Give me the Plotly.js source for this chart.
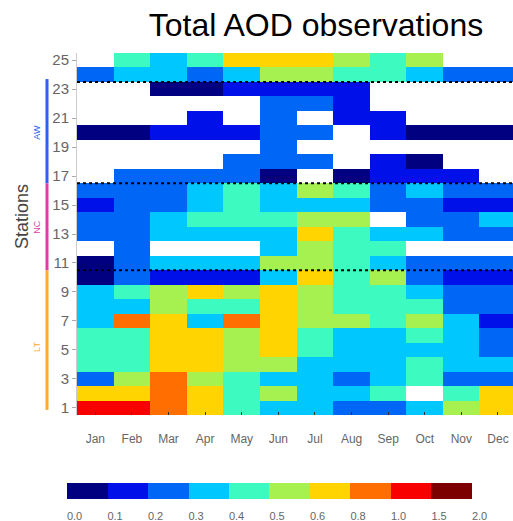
<!DOCTYPE html>
<html>
<head>
<meta charset="utf-8">
<script src="https://cdn.plot.ly/plotly-3.0.1.min.js"></script>
<style>html,body{margin:0;padding:0;background:#fff;}#chart{width:513px;height:521px;}</style>
</head>
<body>
<div id="chart"></div>
<script>
// ---- data ----
const months = ['Jan','Feb','Mar','Apr','May','Jun','Jul','Aug','Sep','Oct','Nov','Dec'];
const stations = [1,2,3,4,5,6,7,8,9,10,11,12,13,14,15,16,17,18,19,20,21,22,23,24,25];
const yTicks = [1,3,5,7,9,11,13,15,17,19,21,23,25];
// bin edges of the AOD colour scale and their labels
const binEdges = [0.0,0.1,0.2,0.3,0.4,0.5,0.6,0.8,1.0,1.5,2.0];
const binLabels = ['0.0','0.1','0.2','0.3','0.4','0.5','0.6','0.8','1.0','1.5','2.0'];
const binColors = ['#000080','#0010e8','#0066f5','#00c8ff','#3cfac0','#a6f050','#ffd400','#ff6e00','#f80000','#7c0000'];
// Total AOD per station (row) and month (Jan..Dec); null = no observation
const aodByStation = [
 /* 1 */ [1.2,1.2,0.9,0.7,0.45,0.35,0.35,0.25,0.25,0.35,0.55,0.7],
 /* 2 */ [0.7,0.7,0.9,0.7,0.45,0.55,0.35,0.35,0.45,null,0.45,0.7],
 /* 3 */ [0.25,0.55,0.9,0.55,0.45,0.35,0.35,0.25,0.35,0.45,0.25,0.25],
 /* 4 */ [0.45,0.45,0.7,0.7,0.55,0.55,0.35,0.35,0.35,0.45,0.35,0.35],
 /* 5 */ [0.45,0.45,0.7,0.7,0.55,0.7,0.45,0.35,0.35,0.35,0.35,0.25],
 /* 6 */ [0.45,0.45,0.7,0.7,0.55,0.7,0.45,0.35,0.35,0.45,0.35,0.25],
 /* 7 */ [0.35,0.9,0.7,0.35,0.9,0.7,0.55,0.55,0.45,0.55,0.35,0.15],
 /* 8 */ [0.35,0.35,0.55,0.45,0.45,0.7,0.55,0.45,0.45,0.45,0.25,0.25],
 /* 9 */ [0.35,0.45,0.55,0.7,0.55,0.7,0.55,0.45,0.45,0.35,0.25,0.25],
 /*10 */ [0.05,0.25,0.15,0.15,0.15,0.35,0.7,0.45,0.55,0.25,0.15,0.15],
 /*11 */ [0.05,0.25,0.35,0.35,0.35,0.55,0.55,0.45,0.35,0.25,0.25,0.25],
 /*12 */ [null,0.25,null,null,null,0.35,0.55,0.45,0.45,null,null,null],
 /*13 */ [0.25,0.25,0.35,0.35,0.35,0.35,0.7,0.45,0.35,0.35,0.25,0.25],
 /*14 */ [0.25,0.25,0.35,0.45,0.45,0.45,0.55,0.55,null,0.25,0.25,0.35],
 /*15 */ [0.15,0.25,0.25,0.35,0.45,0.35,0.35,0.35,0.25,0.25,0.15,0.15],
 /*16 */ [0.25,0.25,0.25,0.35,0.45,0.35,0.55,0.45,0.25,0.35,0.25,0.25],
 /*17 */ [null,0.25,0.25,0.25,0.25,0.05,null,0.05,0.15,0.15,0.15,null],
 /*18 */ [null,null,null,null,0.25,0.25,0.25,null,0.15,0.05,null,null],
 /*19 */ [null,null,null,null,null,0.25,null,null,null,null,null,null],
 /*20 */ [0.05,0.05,0.15,0.15,0.15,0.25,0.25,null,0.15,0.05,0.05,0.05],
 /*21 */ [null,null,null,0.15,null,0.25,null,0.15,0.15,null,null,null],
 /*22 */ [null,null,null,null,null,0.25,0.25,0.15,null,null,null,null],
 /*23 */ [null,null,0.05,0.05,0.15,0.15,0.15,0.15,null,null,null,null],
 /*24 */ [0.25,0.35,0.35,0.25,0.35,0.55,0.55,0.45,0.45,0.35,0.25,0.25],
 /*25 */ [null,0.45,0.35,0.45,0.7,0.7,0.7,0.55,0.45,0.55,null,null]
];
const separators = [23.5,16.5,10.5];
const groups = [
  {name:'AW', color:'#2f5ff2', from:16.5, to:23.7, labelAt:20.0},
  {name:'NC', color:'#dd3da8', from:10.5, to:16.5, labelAt:13.5},
  {name:'LT', color:'#ffab2a', from:0.85, to:10.5, labelAt:5.2}
];
const chartTitle = 'Total AOD observations';
const yTitle = 'Stations';

// ---- build ----
function binIndex(v){
  if(v===null||v===undefined) return null;
  for(let i=0;i<binEdges.length-1;i++){ if(v>=binEdges[i] && v<binEdges[i+1]) return i+0.5; }
  return binEdges.length-1.5;
}
const z = aodByStation.map(r=>r.map(binIndex));
const nb = binColors.length;
const colorscale = [];
binColors.forEach((c,i)=>{ colorscale.push([i/nb,c]); colorscale.push([(i+1)/nb,c]); });

const W=513,H=521, L=77, R=0, T=53, B=106;
const plotW = W-L-R, plotH = H-T-B;
const font = 'Liberation Sans, Arial, sans-serif';
const narrow = 'Liberation Sans Narrow, Liberation Sans, Arial, sans-serif';
const pad = '\u00a0\u00a0\u00a0\u00a0\u00a0';

const trace = {
  type:'heatmap', x:months.map((m,i)=>i+1), y:stations, z:z,
  zmin:0, zmax:nb, colorscale:colorscale, hoverinfo:'skip', xgap:0, ygap:0,
  colorbar:{
    orientation:'h', xref:'container', yref:'container',
    x:(270.5+46.5)/W, xanchor:'center', y:(H-483)/H, yanchor:'top',
    lenmode:'pixels', len:405, thickness:16, xpad:0, ypad:0,
    outlinewidth:0, ticks:'outside', ticklen:8, tickcolor:'rgba(0,0,0,0)',
    ticklabeloverflow:'allow',
    tickvals:binEdges.map((e,i)=>i), ticktext:binLabels.map(s=>pad+s),
    tickfont:{family:font, size:11, color:'#666'}
  }
};

const shapes = [];
separators.forEach(s=>shapes.push({type:'line', xref:'paper', x0:0, x1:1, yref:'y', y0:s, y1:s,
  line:{color:'#000', width:2, dash:'3px,3px'}}));
groups.forEach(g=>shapes.push({type:'line', xref:'paper', x0:(47-L)/plotW, x1:(47-L)/plotW, yref:'y', y0:g.from, y1:g.to,
  line:{color:g.color, width:3}}));

const annotations = groups.map(g=>({
  xref:'paper', x:(37-L)/plotW, xanchor:'center', yref:'y', yanchor:'middle', y:g.labelAt,
  text:g.name, showarrow:false, textangle:-90,
  font:{family:font, size:9, color:g.color}
}));
annotations.push({xref:'paper', x:(22-L)/plotW, xanchor:'center', yref:'paper', yanchor:'middle',
  y:(H-B-217)/plotH, text:yTitle, showarrow:false,
  textangle:-90, font:{family:narrow, size:18, color:'#444'}});

const layout = {
  width:W, height:H, margin:{l:L,r:R,t:T,b:B,pad:0},
  paper_bgcolor:'#fff', plot_bgcolor:'#fff', showlegend:false,
  title:{text:chartTitle, xref:'container', x:316/W, xanchor:'center', yref:'container', y:1-25/H, yanchor:'middle',
    font:{family:font, size:32, color:'#000'}},
  xaxis:{range:[0.5,12.41], tickvals:months.map((m,i)=>i+1), ticktext:months, ticks:'inside', ticklen:3,
    tickcolor:'#333', showgrid:false, zeroline:false, showline:false, ticklabelstandoff:15,
    tickfont:{family:font, size:12, color:'#666'}},
  yaxis:{range:[0.5,25.5], tickvals:yTicks, ticks:'outside', ticklen:4, tickcolor:'#aaa',
    showgrid:false, zeroline:false, showline:true, linecolor:'#ccc', linewidth:1,
    tickfont:{family:narrow, size:15, color:'#666'}},
  shapes:shapes, annotations:annotations
};
Plotly.newPlot('chart',[trace],layout,{displayModeBar:false, staticPlot:true});
</script>
</body>
</html>
